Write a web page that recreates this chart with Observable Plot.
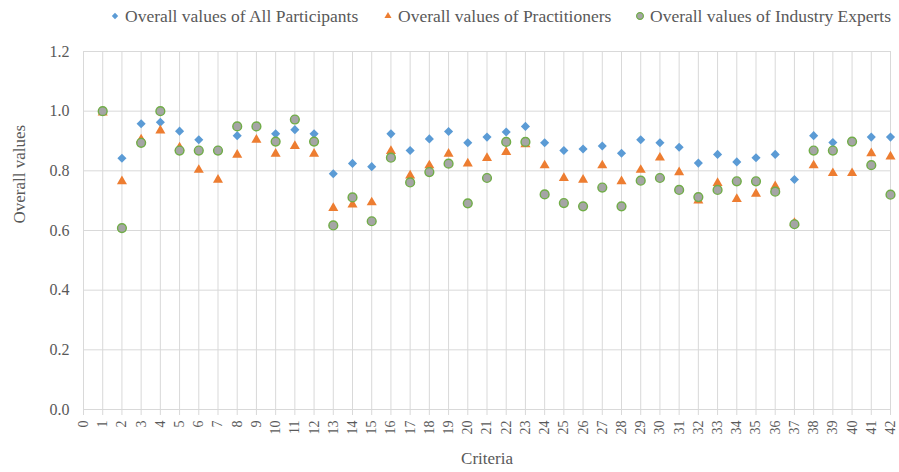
<!DOCTYPE html>
<html>
<head>
<meta charset="utf-8">
<script src="https://cdn.jsdelivr.net/npm/d3@7"></script>
<script src="https://cdn.jsdelivr.net/npm/@observablehq/plot@0.6"></script>
<style>
  body { margin: 0; background: #fff; }
  #chart svg { display: block; }
</style>
</head>
<body>
<div id="chart"></div>
<script>
const criteria = [1,2,3,4,5,6,7,8,9,10,11,12,13,14,15,16,17,18,19,20,21,22,23,24,25,26,27,28,29,30,31,32,33,34,35,36,37,38,39,40,41,42];
const allParticipants = [1.00,0.842,0.958,0.963,0.933,0.904,0.870,0.918,0.948,0.924,0.938,0.924,0.790,0.825,0.814,0.924,0.868,0.907,0.932,0.894,0.913,0.930,0.949,0.894,0.868,0.873,0.883,0.859,0.904,0.894,0.879,0.826,0.855,0.830,0.844,0.855,0.771,0.918,0.895,0.898,0.913,0.913];
const practitioners = [0.995,0.765,0.905,0.935,0.878,0.803,0.770,0.854,0.904,0.857,0.883,0.857,0.675,0.687,0.694,0.866,0.784,0.818,0.857,0.824,0.843,0.863,0.889,0.818,0.776,0.770,0.818,0.765,0.803,0.844,0.795,0.700,0.759,0.705,0.723,0.748,0.625,0.818,0.792,0.792,0.859,0.848];
const industryExperts = [1.00,0.608,0.894,1.00,0.868,0.868,0.868,0.949,0.949,0.898,0.972,0.898,0.617,0.711,0.631,0.844,0.761,0.796,0.824,0.691,0.776,0.897,0.897,0.721,0.692,0.681,0.744,0.681,0.767,0.776,0.736,0.712,0.736,0.765,0.765,0.730,0.621,0.868,0.868,0.898,0.819,0.720];
const seriesNames = ["Overall values of All Participants", "Overall values of Practitioners", "Overall values of Industry Experts"];
const xTicks = [0,1,2,3,4,5,6,7,8,9,10,11,12,13,14,15,16,17,18,19,20,21,22,23,24,25,26,27,28,29,30,31,32,33,34,35,36,37,38,39,40,41,42];
const yTicks = [0, 0.2, 0.4, 0.6, 0.8, 1.0, 1.2];
const xTitle = "Criteria";
const yTitle = "Overall values";

const font = '"Liberation Serif", "Times New Roman", serif';
const textColor = "#595959";
const gridColor = "#d9d9d9";
const colors = {diamond: "#5B9BD5", triangle: "#ED7D31", circleFill: "#A5A5A5", circleStroke: "#70AD47"};

const rows = vals => criteria.map((c, i) => ({criterion: c, value: vals[i]}));

// Legend (above the plot)
const legend = d3.create("svg")
  .attr("width", 899).attr("height", 30)
  .style("font-family", font);
const legendItems = [
  {name: seriesNames[0], sym: d3.symbolDiamond2, size: 26, fill: colors.diamond, stroke: "none", mx: 115, tx: 125},
  {name: seriesNames[1], sym: d3.symbolTriangle2, size: 36, fill: colors.triangle, stroke: "none", mx: 388, tx: 398},
  {name: seriesNames[2], sym: d3.symbolCircle, size: 36, fill: colors.circleFill, stroke: colors.circleStroke, mx: 640, tx: 650}
];
for (const it of legendItems) {
  legend.append("path")
    .attr("d", d3.symbol(it.sym, it.size)())
    .attr("transform", `translate(${it.mx},16)`)
    .attr("fill", it.fill)
    .attr("stroke", it.stroke)
    .attr("stroke-width", 1.2);
  legend.append("text")
    .attr("x", it.tx).attr("y", 22)
    .attr("font-size", 17.5)
    .attr("fill", textColor)
    .text(it.name);
}

const plot = Plot.plot({
  width: 899,
  height: 442,
  marginLeft: 83,
  marginRight: 9,
  marginTop: 21,
  marginBottom: 63,
  style: {fontFamily: font, color: textColor, background: "#fff", overflow: "visible"},
  x: {type: "linear", domain: [0, 42]},
  y: {domain: [0, 1.2]},
  marks: [
    Plot.gridX(xTicks, {stroke: gridColor, strokeOpacity: 1, strokeWidth: 1}),
    Plot.gridY(yTicks, {stroke: gridColor, strokeOpacity: 1, strokeWidth: 1}),
    Plot.axisX(xTicks, {tickRotate: -90, tickSize: 6, tickPadding: 5, stroke: gridColor, fill: textColor, fontSize: 14, tickFormat: d => String(d), label: null}),
    Plot.axisY(yTicks, {tickSize: 0, tickPadding: 14, fontSize: 16, fill: textColor, tickFormat: d3.format(".1f"), label: null}),
    Plot.text([xTitle], {text: d => d, frameAnchor: "bottom", dy: 54, fontSize: 17, fill: textColor}),
    Plot.text([yTitle], {text: d => d, frameAnchor: "left", rotate: -90, dx: -63.5, dy: -7, fontSize: 17, fill: textColor}),
    Plot.dot(rows(allParticipants), {x: "criterion", y: "value", symbol: "diamond2", r: 4.1, fill: colors.diamond, stroke: "none"}),
    Plot.dot(rows(practitioners), {x: "criterion", y: "value", symbol: "triangle2", r: 4.8, fill: colors.triangle, stroke: "none"}),
    Plot.dot(rows(industryExperts), {x: "criterion", y: "value", symbol: "circle", r: 4.4, fill: colors.circleFill, stroke: colors.circleStroke, strokeWidth: 1.4})
  ]
});

const chart = document.getElementById("chart");
chart.appendChild(legend.node());
chart.appendChild(plot);
</script>
</body>
</html>
